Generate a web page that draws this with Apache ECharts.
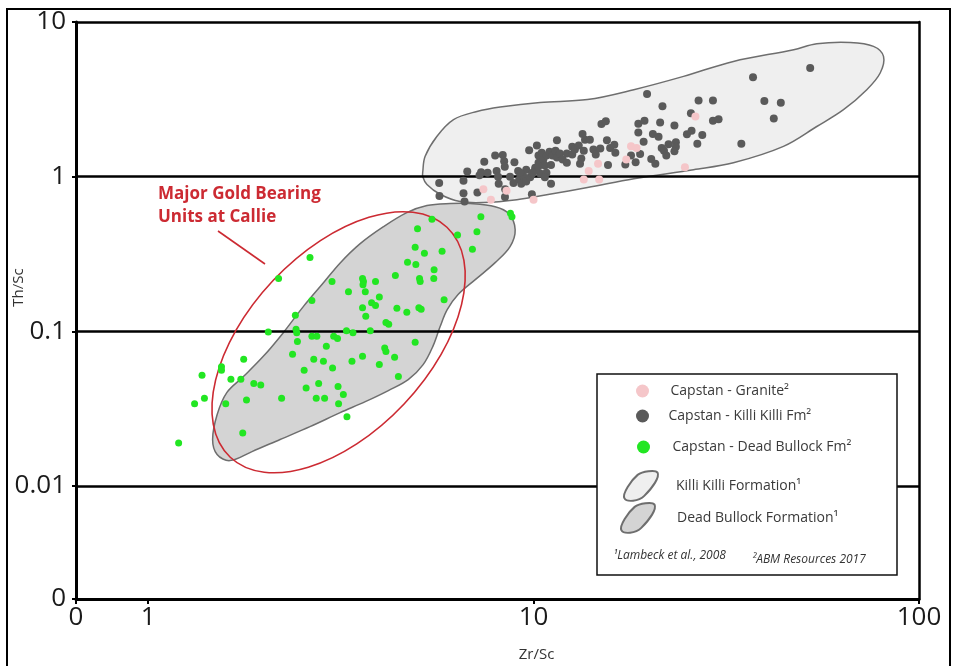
<!DOCTYPE html>
<html><head><meta charset="utf-8">
<script src="https://cdn.jsdelivr.net/npm/echarts@6/dist/echarts.min.js"></script>
<style>html,body{margin:0;padding:0;background:#fff}#c{width:954px;height:666px}</style>
</head><body><div id="c"></div>
<script>
// ---- axis ranges / tick labels ----
const X_MIN = 0.65, X_MAX = 100;
const Y_MIN = 0.00186, Y_MAX = 10;
const xMinLabel = '0';
const yMinLabel = '0';

// ---- series: Capstan - Granite (Zr/Sc, Th/Sc) ----
const granite = [[7.41,0.83],[7.75,0.71],[8.51,0.81],[10.0,0.71],[13.5,0.96],[13.9,1.09],[14.8,0.96],[14.7,1.21],[17.4,1.29],[17.9,1.57],[18.5,1.53],[24.7,1.15],[26.3,2.45]];

// ---- series: Capstan - Killi Killi Fm ----
const killiFm = [[5.69,0.91],[5.70,0.75],[6.58,0.94],[6.73,1.08],[6.58,0.78],[6.62,0.69],[7.15,0.79],[7.24,1.02],[7.31,1.07],[7.45,1.25],[7.60,1.06],[7.95,1.37],[8.02,1.09],[8.09,1.00],[8.12,0.90],[8.32,1.38],[8.39,1.26],[8.42,1.16],[8.43,0.74],[8.44,0.83],[8.69,1.00],[8.87,0.91],[8.92,1.24],[9.12,1.09],[9.18,0.96],[9.29,0.90],[9.40,1.01],[9.57,0.93],[9.57,1.11],[9.74,1.48],[9.80,0.99],[9.92,1.05],[9.90,0.77],[10.1,1.14],[10.2,1.59],[10.3,1.37],[10.3,1.23],[10.4,1.05],[10.5,1.43],[10.6,1.29],[10.7,1.18],[10.8,1.37],[10.8,1.06],[11.0,1.45],[11.1,1.19],[11.1,0.90],[11.2,1.37],[11.4,1.47],[11.5,1.72],[11.5,1.33],[11.7,1.41],[11.9,1.29],[12.2,1.23],[12.2,1.41],[12.6,1.39],[12.6,1.56],[12.8,1.50],[13.1,1.59],[13.2,1.21],[13.3,1.31],[13.4,1.89],[13.5,1.47],[13.6,1.73],[14.0,1.73],[14.3,1.50],[14.5,1.39],[14.9,1.52],[15.0,2.19],[15.4,2.28],[15.5,1.72],[15.6,1.19],[15.8,1.53],[16.2,1.61],[16.3,1.43],[17.3,1.20],[17.9,1.37],[18.4,1.24],[18.7,2.20],[19.4,2.30],[18.7,1.93],[19.3,1.68],[18.9,1.40],[19.7,3.43],[20.2,1.30],[20.7,1.21],[20.4,1.89],[21.1,1.81],[21.3,2.24],[21.6,2.85],[21.5,1.53],[21.8,1.47],[22.1,1.37],[22.4,1.62],[23.2,2.14],[23.4,1.67],[23.4,1.56],[23.2,1.46],[25.0,1.88],[25.7,1.98],[25.6,2.57],[26.6,1.63],[27.4,1.86],[26.8,3.11],[29.2,3.11],[29.2,2.30],[30.2,2.35],[34.6,1.63],[37.1,4.40],[39.7,3.08],[43.8,3.00],[42.0,2.38],[52.2,5.04],[9.23,1.06],[10.1,1.11],[10.3,1.17],[9.95,1.06],[10.7,0.99]];

// ---- series: Capstan - Dead Bullock Fm ----
const deadBullockFm = [[5.45,0.53],[7.30,0.55],[8.71,0.58],[8.79,0.55],[5.00,0.46],[6.35,0.42],[7.13,0.44],[4.93,0.35],[5.21,0.32],[5.79,0.33],[6.94,0.34],[2.63,0.30],[4.71,0.28],[4.95,0.27],[5.52,0.25],[2.18,0.22],[3.00,0.21],[3.60,0.22],[3.62,0.21],[3.61,0.20],[3.89,0.21],[4.38,0.23],[5.06,0.22],[5.08,0.21],[5.51,0.22],[3.66,0.18],[3.31,0.18],[2.66,0.158],[3.98,0.167],[3.80,0.153],[3.89,0.147],[3.60,0.142],[4.42,0.141],[5.04,0.142],[5.11,0.139],[4.69,0.133],[5.86,0.160],[2.41,0.127],[3.67,0.125],[4.14,0.114],[4.21,0.111],[2.05,0.099],[2.42,0.103],[2.43,0.098],[2.44,0.086],[2.66,0.093],[2.74,0.093],[3.03,0.093],[3.10,0.090],[3.27,0.101],[3.40,0.098],[3.77,0.101],[2.90,0.080],[4.93,0.085],[2.37,0.071],[2.69,0.066],[2.85,0.064],[3.01,0.058],[3.38,0.064],[3.60,0.069],[4.11,0.078],[4.14,0.074],[4.36,0.068],[3.98,0.061],[1.77,0.066],[1.55,0.059],[1.55,0.056],[2.54,0.056],[4.46,0.051],[1.38,0.052],[1.64,0.049],[1.74,0.049],[1.88,0.046],[1.96,0.045],[2.77,0.046],[2.57,0.043],[3.11,0.044],[1.40,0.037],[1.32,0.034],[1.59,0.034],[1.80,0.036],[2.22,0.037],[2.73,0.037],[2.87,0.037],[3.21,0.039],[3.12,0.034],[3.28,0.028],[1.76,0.022],[1.20,0.019]];

// ---- field outlines (Lambeck et al., 2008) ----
const killiOutline = [[5.16,1.08],[5.23,1.35],[5.61,1.82],[6.20,2.34],[7.13,2.64],[8.19,2.82],[10.4,3.02],[13.8,3.15],[18.2,3.65],[24.5,4.45],[33.0,5.56],[47.3,6.62],[54.3,7.24],[66.3,7.38],[76.2,6.96],[80.9,5.99],[79.3,4.68],[73.2,3.65],[63.7,2.71],[54.3,2.11],[44.5,1.57],[33.0,1.23],[26.0,1.11],[18.2,0.97],[13.8,0.85],[11.0,0.77],[9.05,0.71],[7.41,0.68],[6.45,0.69],[5.72,0.77],[5.29,0.89],[5.16,1.00]];
const deadOutline = [[4.69,0.585],[5.29,0.65],[6.08,0.67],[6.85,0.67],[7.95,0.64],[8.62,0.577],[8.96,0.454],[8.69,0.353],[7.95,0.278],[7.06,0.216],[6.37,0.173],[5.97,0.138],[5.72,0.107],[5.49,0.0808],[5.17,0.0609],[4.73,0.0487],[4.20,0.0414],[3.66,0.0351],[3.15,0.0298],[2.63,0.0242],[2.20,0.0200],[1.86,0.0167],[1.63,0.0146],[1.51,0.0160],[1.47,0.0200],[1.51,0.0289],[1.60,0.0402],[1.77,0.0512],[1.99,0.0689],[2.24,0.0977],[2.53,0.145],[2.85,0.206],[3.15,0.277],[3.55,0.369],[4.08,0.475]];

// ---- annotation: ellipse centre ----
const goldEllipseCentre = [[3.12, 0.085]];

const NAMES = {
  granite: 'Capstan - Granite\u00B2',
  killiFm: 'Capstan - Killi Killi Fm\u00B2',
  deadFm: 'Capstan - Dead Bullock Fm\u00B2',
  killiField: 'Killi Killi Formation\u00B9',
  deadField: 'Dead Bullock Formation\u00B9'
};

const FONT = "'Open Sans', 'DejaVu Sans', sans-serif";
const BLOB = 'path://M2,26 C0,22 8,10 14,5 C18,2 30,0 32,3 C34,7 28,16 20,24 C15,29 4,30 2,26 Z';
const LEGEND_TEXT = { fontFamily: FONT, fontSize: 14, color: '#3a3a3a' };

function fmtNum(v){ return String(Number(v.toPrecision(3))); }

function polygonSeries(name, pts, fill) {
  return {
    type: 'custom', name: name, z: -1, silent: true,
    coordinateSystem: 'cartesian2d',
    data: [pts[0]],
    itemStyle: { color: fill, borderColor: '#6e6e6e', borderWidth: 1.5 },
    renderItem: function (params, api) {
      const points = pts.map(function (p) { return api.coord(p); });
      return { type: 'polygon', shape: { points: points, smooth: 0.35 },
        style: { fill: fill, stroke: '#6e6e6e', lineWidth: 1.5 } };
    }
  };
}

function legendItem(name, left, top, itemWidth, itemHeight, extra) {
  return Object.assign({
    selectedMode: false, orient: 'vertical', left: left, top: top,
    itemWidth: itemWidth, itemHeight: itemHeight, z: 6,
    data: [name],
    textStyle: LEGEND_TEXT
  }, extra || {});
}

const chart = echarts.init(document.getElementById('c'));
chart.setOption({
  animation: false,
  backgroundColor: '#fff',
  grid: { left: 76, right: 35, top: 22, bottom: 67, containLabel: false, outerBoundsMode: 'none' },
  xAxis: {
    type: 'log', logBase: 10, min: X_MIN, max: X_MAX,
    axisLine: { show: true, onZero: false, lineStyle: { color: '#000', width: 3 } },
    axisTick: { show: true, length: 5, lineStyle: { color: '#000', width: 2 } },
    minorTick: { show: false },
    splitLine: { show: false },
    axisLabel: { margin: 6, fontSize: 26, fontFamily: FONT, color: '#1a1a1a',
      formatter: function (v) { return v < 0.9 ? xMinLabel : fmtNum(v); } },
    name: 'Zr/Sc', nameLocation: 'middle', nameGap: 48, nameMoveOverlap: false,
    nameTextStyle: { fontFamily: FONT, fontSize: 15, color: '#333', padding: [0, 0, 0, 78] }
  },
  yAxis: [{
    type: 'log', logBase: 10, min: Y_MIN, max: Y_MAX,
    axisLine: { show: true, onZero: false, lineStyle: { color: '#000', width: 3 } },
    axisTick: { show: true, length: 4, lineStyle: { color: '#000', width: 2 } },
    minorTick: { show: false },
    splitLine: { show: true, lineStyle: { color: '#000', width: 2.5 } },
    axisLabel: { margin: 10, fontSize: 26, fontFamily: FONT, color: '#1a1a1a',
      formatter: function (v) { return v < 0.005 ? yMinLabel : fmtNum(v); } },
    name: 'Th/Sc', nameLocation: 'middle', nameGap: 50, nameRotate: 90, nameMoveOverlap: false,
    nameTextStyle: { fontFamily: FONT, fontSize: 15, color: '#333', padding: [0, 0, 0, 46] }
  }, {
    type: 'log', logBase: 10, min: Y_MIN, max: Y_MAX, position: 'right',
    axisLine: { show: true, onZero: false, lineStyle: { color: '#000', width: 2.5 } },
    axisTick: { show: false }, axisLabel: { show: false }, splitLine: { show: false }
  }],
  legend: [
    legendItem(NAMES.granite, 631, 379, 46, 13),
    legendItem(NAMES.killiFm, 631, 404, 42, 13),
    legendItem(NAMES.deadFm, 632, 435, 48, 13),
    legendItem(NAMES.killiField, 618, 465, 34, 30, { icon: BLOB, textStyle: Object.assign({}, LEGEND_TEXT, { padding: [0, 0, 0, 13] }) }),
    legendItem(NAMES.deadField, 615, 497, 34, 30, { icon: BLOB, textStyle: Object.assign({}, LEGEND_TEXT, { padding: [0, 0, 0, 17] }) })
  ],
  graphic: [
    { type: 'rect', z: 0, silent: true, shape: { x: 7, y: 9, width: 943, height: 700 },
      style: { fill: null, stroke: '#000', lineWidth: 2 } },
    { type: 'rect', z: 5, silent: true, shape: { x: 597, y: 374, width: 300, height: 201 },
      style: { fill: '#fff', stroke: '#111', lineWidth: 1.5 } },
    { type: 'text', z: 6, silent: true, x: 613, y: 550,
      style: { text: '\u00B9Lambeck et al., 2008', font: 'italic 12px ' + FONT, fill: '#333' } },
    { type: 'text', z: 6, silent: true, x: 752, y: 554,
      style: { text: '\u00B2ABM Resources 2017', font: 'italic 12px ' + FONT, fill: '#333' } },
    { type: 'text', z: 6, silent: true, x: 158, y: 183,
      style: { text: 'Major Gold Bearing\nUnits at Callie', font: 'bold 17px ' + FONT, lineHeight: 23, fill: '#cc2a32' } },
    { type: 'line', z: 6, silent: true, shape: { x1: 218, y1: 231, x2: 265, y2: 264 },
      style: { stroke: '#cc2a32', lineWidth: 1.6 } }
  ],
  series: [
    polygonSeries(NAMES.killiField, killiOutline, '#efefef'),
    polygonSeries(NAMES.deadField, deadOutline, '#d4d4d4'),
    {
      type: 'custom', name: 'Major Gold Bearing Units at Callie', z: 1, silent: true,
      data: goldEllipseCentre,
      renderItem: function (params, api) {
        const c = api.coord([api.value(0), api.value(1)]);
        return { type: 'ellipse', x: c[0], y: c[1], rotation: 46.7 * Math.PI / 180,
          shape: { cx: 0, cy: 0, rx: 158, ry: 90 },
          style: { fill: null, stroke: '#cc2a32', lineWidth: 1.6 } };
      }
    },
    { type: 'scatter', name: NAMES.killiFm, data: killiFm, symbolSize: 8, z: 3,
      itemStyle: { color: '#5a5a5a', opacity: 1 } },
    { type: 'scatter', name: NAMES.granite, data: granite, symbolSize: 8, z: 3,
      itemStyle: { color: '#f5c6c9', opacity: 1 } },
    { type: 'scatter', name: NAMES.deadFm, data: deadBullockFm, symbolSize: 7, z: 3,
      itemStyle: { color: '#22e622', opacity: 1 } }
  ]
});
</script>
</body></html>
